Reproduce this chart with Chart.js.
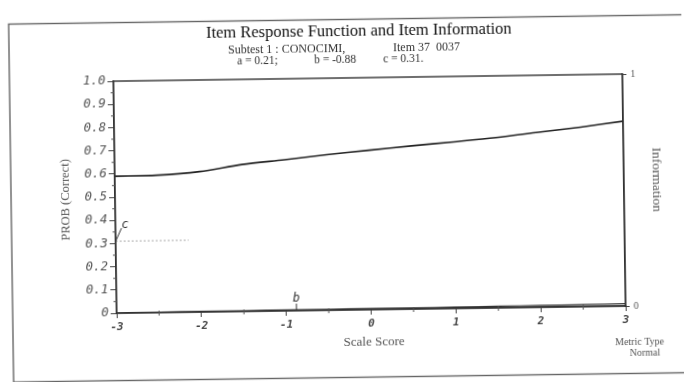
<!DOCTYPE html>
<html>
<head>
<meta charset="utf-8">
<script src="https://cdn.jsdelivr.net/npm/chart.js@4"></script>
<style>
  html, body { margin: 0; padding: 0; background: #fff; }
  #wrap { width: 684px; height: 382px; overflow: hidden; }
  /* the scan is slightly tilted */
  #irf { transform: rotate(-0.8deg); transform-origin: 342px 191px; }
</style>
</head>
<body>
<div id="wrap"><canvas id="irf" width="684" height="382"></canvas></div>
<script>
// item parameters (from the header)
const aParam = 0.21;
const bParam = -0.88;
const cParam = 0.31;

// scale score grid and the two curves
const theta = [-3, -2.5, -2, -1.5, -1, -0.5, 0, 0.5, 1, 1.5, 2, 2.5, 3];
const probCorrect = [0.590, 0.592, 0.605, 0.633, 0.651, 0.670, 0.687, 0.703, 0.718, 0.734, 0.754, 0.774, 0.797];
const information = [0.002, 0.002, 0.003, 0.003, 0.004, 0.004, 0.005, 0.005, 0.006, 0.007, 0.008, 0.009, 0.010];

const xTicks = [-3, -2, -1, 0, 1, 2, 3];
const yTicks = [0, 0.1, 0.2, 0.3, 0.4, 0.5, 0.6, 0.7, 0.8, 0.9, 1.0];

// marker for c: dotted guide from the left edge
const cGuideX = [-3, -2.14];

document.addEventListener("DOMContentLoaded", function() {
    const decor = {
        id: 'decor',
        afterDraw(chart) {
            const { ctx, chartArea: a, scales: { x, y } } = chart;
            ctx.save();

            // outer frame of the page
            ctx.strokeStyle = '#666';
            ctx.lineWidth = 1.4;
            ctx.strokeRect(11, 19.5, 720, 358);

            // plot frame
            ctx.strokeStyle = '#333';
            ctx.lineWidth = 1.4;
            ctx.strokeRect(a.left, a.top, a.right - a.left, a.bottom - a.top);

            // minor ticks
            ctx.lineWidth = 1;
            ctx.strokeStyle = '#555';
            for (let i = 0; i < xTicks.length - 1; i++) {
                const px = x.getPixelForValue(xTicks[i] + 0.5);
                ctx.beginPath();
                ctx.moveTo(px, a.bottom - 2);
                ctx.lineTo(px, a.bottom + 3);
                ctx.stroke();
            }
            for (let i = 0; i < yTicks.length - 1; i++) {
                const py = y.getPixelForValue(yTicks[i] + 0.05);
                ctx.beginPath();
                ctx.moveTo(a.left - 3, py);
                ctx.lineTo(a.left + 1, py);
                ctx.stroke();
            }

            // b marker
            const bx = x.getPixelForValue(bParam);
            ctx.strokeStyle = '#333';
            ctx.beginPath();
            ctx.moveTo(bx, a.bottom);
            ctx.lineTo(bx, a.bottom - 7);
            ctx.stroke();
            ctx.fillStyle = '#333';
            ctx.font = 'italic 12px "DejaVu Sans Mono"';
            ctx.textAlign = 'center';
            ctx.textBaseline = 'bottom';
            ctx.fillText('b', bx, a.bottom - 6);

            // c marker
            const cx0 = x.getPixelForValue(-3), cy0 = y.getPixelForValue(cParam);
            ctx.beginPath();
            ctx.moveTo(cx0, cy0);
            ctx.lineTo(cx0 + 6, cy0 - 13);
            ctx.stroke();
            ctx.textAlign = 'left';
            ctx.fillText('c', cx0 + 6, cy0 - 10);

            // titles
            ctx.fillStyle = '#111';
            ctx.textBaseline = 'middle';
            ctx.textAlign = 'center';
            ctx.font = '16.5px "Liberation Serif"';
            ctx.fillText('Item Response Function and Item Information', 361, 32);

            ctx.fillStyle = '#333';
            ctx.font = '12px "Liberation Serif"';
            ctx.textAlign = 'left';
            ctx.fillText('Subtest 1 : CONOCIMI,', 230, 49);
            ctx.fillText('Item 37  0037', 395, 49);
            ctx.font = '11.5px "Liberation Serif"';
            ctx.fillText('a = ' + aParam.toFixed(2) + ';', 239, 60);
            ctx.fillText('b = ' + bParam.toFixed(2), 316, 60);
            ctx.fillText('c = ' + cParam.toFixed(2) + '.', 385, 60);

            // axis titles
            ctx.fillStyle = '#555';
            ctx.font = '13px "Liberation Serif"';
            ctx.textAlign = 'center';
            ctx.fillText('Scale Score', 372, 343);

            ctx.save();
            ctx.translate(66, 196);
            ctx.rotate(-Math.PI / 2);
            ctx.font = '12.5px "Liberation Serif"';
            ctx.fillText('PROB (Correct)', 0, 0);
            ctx.restore();

            ctx.save();
            ctx.translate(657, 184);
            ctx.rotate(Math.PI / 2);
            ctx.font = '13.5px "Liberation Serif"';
            ctx.fillText('Information', 0, 0);
            ctx.restore();

            ctx.font = '10px "Liberation Serif"';
            ctx.textAlign = 'right';
            ctx.fillText('Metric Type', 662, 346);
            ctx.fillText('Normal', 658, 357);

            ctx.restore();
        }
    };

    const ctx = document.getElementById('irf').getContext('2d');
    new Chart(ctx, {
        type: 'line',
        data: {
            datasets: [{
                label: 'PROB (Correct)',
                data: theta.map((t, i) => ({ x: t, y: probCorrect[i] })),
                borderColor: '#222',
                borderWidth: 1.6,
                pointRadius: 0,
                tension: 0.3,
                yAxisID: 'y'
            }, {
                label: 'Information',
                data: theta.map((t, i) => ({ x: t, y: information[i] })),
                borderColor: '#333',
                borderWidth: 1.2,
                pointRadius: 0,
                tension: 0.3,
                yAxisID: 'y1'
            }, {
                label: 'c guide',
                data: cGuideX.map(t => ({ x: t, y: cParam })),
                borderColor: '#aaa',
                borderWidth: 1,
                borderDash: [2, 2],
                pointRadius: 0,
                yAxisID: 'y'
            }]
        },
        options: {
            responsive: false,
            animation: false,
            layout: { padding: { top: 78 } },
            plugins: {
                legend: { display: false },
                tooltip: { enabled: false }
            },
            scales: {
                x: {
                    type: 'linear',
                    min: -3,
                    max: 3,
                    afterFit: s => { s.height = 72; },
                    afterBuildTicks: s => { s.ticks = xTicks.map(v => ({ value: v })); },
                    grid: { drawOnChartArea: false, tickLength: 5, color: '#444' },
                    border: { color: '#333', width: 1.4 },
                    ticks: {
                        padding: 3,
                        color: '#444',
                        font: { family: 'DejaVu Sans Mono', size: 11, style: 'italic', weight: 'bold' }
                    }
                },
                y: {
                    position: 'left',
                    min: 0,
                    max: 1,
                    afterFit: s => { s.width = 115; },
                    afterBuildTicks: s => { s.ticks = yTicks.map(v => ({ value: v })); },
                    grid: { drawOnChartArea: false, tickLength: 6, color: '#444' },
                    border: { color: '#333', width: 1.4 },
                    ticks: {
                        padding: 2,
                        color: '#555',
                        callback: v => v === 0 ? '0' : v.toFixed(1),
                        font: { family: 'DejaVu Sans Mono', size: 12.5, style: 'italic' }
                    }
                },
                y1: {
                    position: 'right',
                    min: 0,
                    max: 1,
                    afterFit: s => { s.width = 60; },
                    afterBuildTicks: s => { s.ticks = [{ value: 0 }, { value: 1 }]; },
                    grid: { drawOnChartArea: false, tickLength: 4, color: '#444' },
                    border: { color: '#333', width: 1.4 },
                    ticks: {
                        padding: 4,
                        color: '#555',
                        font: { family: 'Liberation Serif', size: 10 }
                    }
                }
            }
        },
        plugins: [decor]
    });
});
</script>
</body>
</html>
